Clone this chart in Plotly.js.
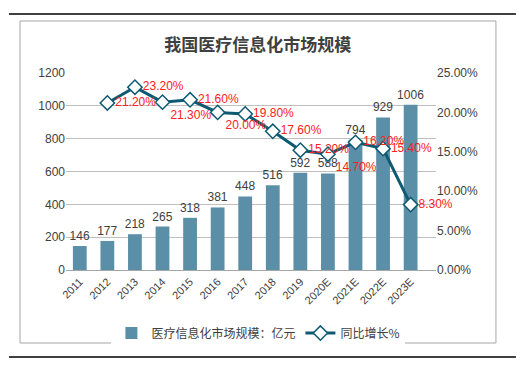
<!DOCTYPE html>
<html><head><meta charset="utf-8">
<script src="https://cdn.plot.ly/plotly-3.0.1.min.js"></script>
<style>body{margin:0;background:#fff}#c{width:524px;height:372px}</style>
</head><body><div id="c"></div>
<script>
var years = ["2011","2012","2013","2014","2015","2016","2017","2018","2019","2020E","2021E","2022E","2023E"];
var market = [146,177,218,265,318,381,448,516,592,588,794,929,1006];
var growthYears = ["2012","2013","2014","2015","2016","2017","2018","2019","2020E","2021E","2022E","2023E"];
var growth = [21.2,23.2,21.3,21.6,20.0,19.8,17.6,15.2,14.7,16.2,15.4,8.3];
var growthPos = ["middle right","middle right","bottom right","middle right","bottom right","middle right","middle right","middle right","bottom right","middle right","middle right","middle right"];

var font = "Liberation Sans, Arial, 'Noto Sans CJK SC', sans-serif";
var cjk = "'Noto Sans CJK SC', Liberation Sans, sans-serif";

var traces = [
  {type:"bar", x:years, y:market, name:"医疗信息化市场规模：亿元",
   marker:{color:"#5B8FA8"}, text:market.map(String), textposition:"outside", constraintext:"none",
   textfont:{color:"#404040", size:12, family:font}, cliponaxis:false},
  {type:"scatter", mode:"lines+markers+text", x:growthYears, y:growth.map(function(v){return v/100;}),
   yaxis:"y2", name:"同比增长%",
   line:{color:"#0E5A72", width:3},
   marker:{symbol:"diamond", size:11, color:"#ffffff", line:{color:"#0E5A72", width:1.5}},
   text:growth.map(function(v){return v.toFixed(2)+"%";}), textposition:growthPos,
   textfont:{color:"#FF2020", size:12, family:font}, cliponaxis:false}
];

var layout = {
  width:524, height:372,
  margin:{l:66, r:88, t:73, b:102},
  paper_bgcolor:"#fff", plot_bgcolor:"#fff",
  title:{text:"<b>我国医疗信息化市场规模</b>", font:{family:cjk, size:17, color:"#404040"}, x:0.492, xanchor:"center", y:0.88, yanchor:"middle"},
  bargap:0.5,
  showlegend:true,
  legend:{orientation:"h", x:0.52, xanchor:"center", y:-0.32, yanchor:"middle", font:{family:cjk, size:12, color:"#404040"}, itemwidth:30, tracegroupgap:0},
  xaxis:{type:"category", tickangle:-45, tickfont:{family:font, size:11, color:"#404040"}, showline:true, linecolor:"#a6a6a6", ticks:"", showgrid:false},
  yaxis:{range:[0,1200], dtick:200, tickfont:{family:font, size:12, color:"#404040"}, gridcolor:"#bfbfbf", zeroline:false, showline:false, ticks:"", ticklen:0},
  yaxis2:{range:[0,0.25], dtick:0.05, tickformat:".2%", overlaying:"y", side:"right", showgrid:false, zeroline:false, tickfont:{family:font, size:12, color:"#404040"}, ticks:""},
  shapes:[
    {type:"rect", xref:"paper", yref:"paper", x0:-0.1243, x1:1.162, y0:-0.3706, y1:1.264, line:{color:"#a6a6a6", width:1}},
    {type:"line", xref:"paper", yref:"paper", x0:-0.154, x1:1.216, y0:1.2995, y1:1.2995, line:{color:"#000", width:1.5}},
    {type:"line", xref:"paper", yref:"paper", x0:-0.154, x1:1.216, y0:-0.4416, y1:-0.4416, line:{color:"#000", width:1.5}}
  ]
};
Plotly.newPlot("c", traces, layout, {displayModeBar:false, staticPlot:true});
</script></body></html>
